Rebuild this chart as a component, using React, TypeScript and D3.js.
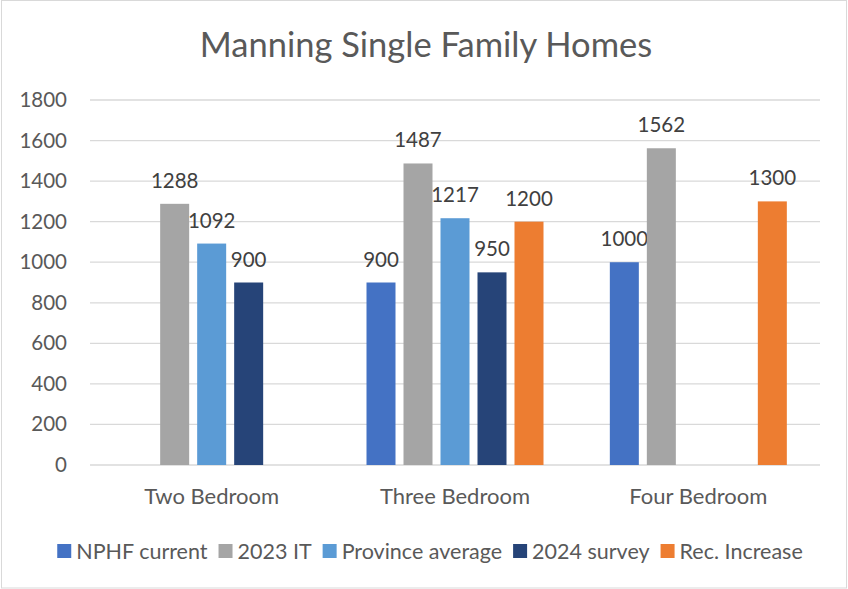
import React, { useEffect, useRef } from 'react';
import * as d3 from 'd3';

const categories = ['Two Bedroom', 'Three Bedroom', 'Four Bedroom'];
const seriesNames = ['NPHF current', '2023 IT', 'Province average', '2024 survey', 'Rec. Increase'];
const seriesColors = ['#4472C4', '#A5A5A5', '#5B9BD5', '#264478', '#ED7D31'];
// one array per series, values per category (null = no bar)
const nphfCurrent = [null, 900, 1000];
const it2023 = [1288, 1487, 1562];
const provinceAverage = [1092, 1217, null];
const survey2024 = [900, 950, null];
const recIncrease = [null, 1200, 1300];
const yTicks = [0, 200, 400, 600, 800, 1000, 1200, 1400, 1600, 1800];

const W = 848, H = 589;
const FONT = 'Lato, "Open Sans", sans-serif';
const TEXT = '#595959';

export default function App() {
  const ref = useRef<SVGSVGElement>(null);

  useEffect(() => {
    const svg = d3.select(ref.current);
    svg.selectAll('*').remove();

    const seriesValues = [nphfCurrent, it2023, provinceAverage, survey2024, recIncrease];
    const margin = { top: 100, right: 28, bottom: 124, left: 90 };
    const plotW = W - margin.left - margin.right;

    // chart border
    svg.append('rect')
      .attr('x', 1.5).attr('y', 0.5).attr('width', W - 3).attr('height', H - 1.5)
      .attr('fill', '#fff').attr('stroke', '#D9D9D9').attr('stroke-width', 1);

    svg.append('text')
      .attr('x', 426).attr('y', 57)
      .attr('text-anchor', 'middle')
      .attr('font-family', FONT).attr('font-size', 34.5).attr('fill', TEXT)
      .text('Manning Single Family Homes');

    const y = d3.scaleLinear().domain([0, 1800]).range([H - margin.bottom, margin.top]);
    const x0 = d3.scaleBand<string>()
      .domain(categories)
      .range([margin.left, margin.left + plotW])
      .paddingInner(0.2726)
      .paddingOuter(0.1363);
    const x1 = d3.scaleBand<string>()
      .domain(seriesNames)
      .range([0, x0.bandwidth()])
      .paddingInner(8 / 37);

    // gridlines + y labels
    const g = svg.append('g');
    yTicks.forEach((t) => {
      g.append('line')
        .attr('x1', margin.left).attr('x2', margin.left + plotW)
        .attr('y1', y(t)).attr('y2', y(t))
        .attr('stroke', '#D9D9D9').attr('stroke-width', 1.3);
      g.append('text')
        .attr('x', 67).attr('y', y(t) + 7)
        .attr('text-anchor', 'end')
        .attr('font-family', FONT).attr('font-size', 20.5).attr('fill', TEXT)
        .text(t);
    });

    // bars + labels
    seriesNames.forEach((name, si) => {
      seriesValues[si].forEach((v, ci) => {
        if (v == null) return;
        const bx = x0(categories[ci])! + x1(name)!;
        g.append('rect')
          .attr('x', bx).attr('y', y(v))
          .attr('width', x1.bandwidth()).attr('height', y(0) - y(v))
          .attr('fill', seriesColors[si]);
        g.append('text')
          .attr('x', bx + x1.bandwidth() / 2).attr('y', y(v) - 16)
          .attr('text-anchor', 'middle')
          .attr('font-family', FONT).attr('font-size', 20.5).attr('fill', '#404040')
          .text(v);
      });
    });

    // category labels
    categories.forEach((c) => {
      g.append('text')
        .attr('x', x0(c)! + x0.bandwidth() / 2).attr('y', 504)
        .attr('text-anchor', 'middle')
        .attr('font-family', FONT).attr('font-size', 22).attr('fill', TEXT)
        .text(c);
    });

    // legend, centered by measuring text
    const leg = svg.append('g');
    let lx = 0;
    seriesNames.forEach((name, i) => {
      const item = leg.append('g').attr('transform', `translate(${lx},0)`);
      item.append('rect').attr('x', 0).attr('y', -7).attr('width', 14).attr('height', 14)
        .attr('fill', seriesColors[i]);
      const t = item.append('text')
        .attr('x', 19).attr('y', 7.5)
        .attr('font-family', FONT).attr('font-size', 21.5).attr('fill', TEXT)
        .text(name);
      const tw = (t.node() as SVGTextElement).getComputedTextLength();
      lx += 19 + tw + 11;
    });
    const legW = lx - 11;
    leg.attr('transform', `translate(${430 - legW / 2},551)`);
  }, []);

  return (
    <div style={{ position: 'fixed', left: 0, top: 0 }}>
      <svg ref={ref} width={W} height={H} style={{ display: 'block' }} />
    </div>
  );
}
